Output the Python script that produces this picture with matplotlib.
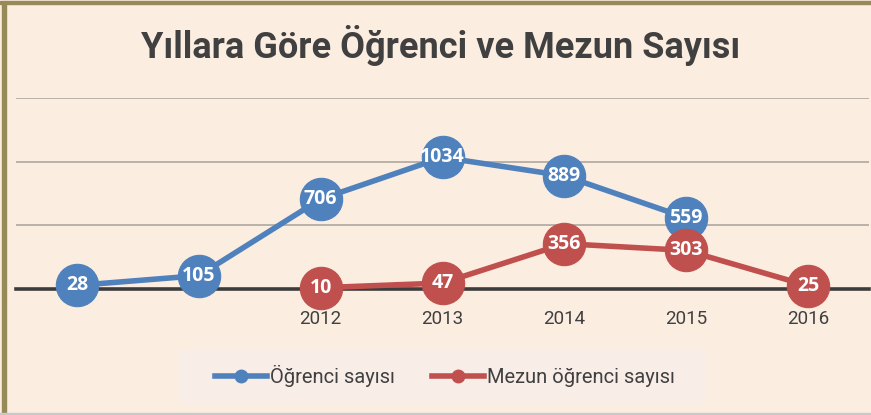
import numpy as np
import matplotlib
matplotlib.use("Agg")
import matplotlib.pyplot as plt
from matplotlib.lines import Line2D
from matplotlib.patches import Rectangle

# chart data
years = ['', '', '2012', '2013', '2014', '2015', '2016']
ogrenci = [28, 105, 706, 1034, 889, 559, np.nan]
mezun = [np.nan, np.nan, 10, 47, 356, 303, 25]

blue = '#4f81bd'
red = '#c0504d'
bg = '#fcede1'
txt = '#404040'

W, H = 871, 415
fig = plt.figure(figsize=(W / 100, H / 100), dpi=100, facecolor=bg)

# border bands
fig.patches.append(Rectangle((0, 1 - 4 / H), 1, 3 / H, transform=fig.transFigure,
                             color='#968a58', zorder=0))
fig.patches.append(Rectangle((2 / W, 2 / H), 4 / W, 1 - 6 / H, transform=fig.transFigure,
                             color='#968a58', zorder=0))
fig.patches.append(Rectangle((0, 0), 1, 2.5 / H, transform=fig.transFigure,
                             color='#c8c8c8', zorder=0))
# legend box
fig.patches.append(Rectangle((179 / W, 1 - 403 / H), (705 - 179) / W, 54 / H,
                             transform=fig.transFigure, color='#f8ede7', zorder=0))

ax = fig.add_axes([16 / W, 1 - 289 / H, (869 - 16) / W, (289 - 98) / H])
ax.set_facecolor('none')
for s in ax.spines.values():
    s.set_visible(False)

x = np.arange(len(years))
ax.set_xlim(-0.5, len(years) - 0.5)
ax.set_ylim(0, 1500)

for g in [500, 1000, 1500]:
    ax.axhline(g, color='#b5aca3', lw=1.3, zorder=1)
ax.axhline(0, color='#3c3c3c', lw=2.6, zorder=2, clip_on=False)

for vals, col in [(ogrenci, blue), (mezun, red)]:
    ax.plot(x, vals, color=col, lw=4, marker='o', markersize=30.5,
            markeredgecolor=col, markeredgewidth=0.8, zorder=3, clip_on=False)
    for xi, v in zip(x, vals):
        if np.isnan(v):
            continue
        ax.text(xi, v, str(int(v)), color='white', fontsize=14, fontweight='bold',
                family=['Open Sans', 'DejaVu Sans'], ha='center', va='center',
                zorder=4, clip_on=False)

ax.set_yticks([])
ax.set_xticks(x)
ax.set_xticklabels(years, fontsize=13.5, color=txt, family=['Roboto', 'DejaVu Sans'])
ax.tick_params(axis='x', length=0, pad=15)

fig.text(441 / W, 1 - 58 / H, 'Yıllara Göre Öğrenci ve Mezun Sayısı', ha='center',
         va='baseline', fontsize=26, fontweight='bold', color=txt,
         family=['Roboto', 'DejaVu Sans'])

handles = [Line2D([], [], color=blue, lw=4, marker='o', markersize=9),
           Line2D([], [], color=red, lw=4, marker='o', markersize=9)]
leg = fig.legend(handles, ['Öğrenci sayısı', 'Mezun öğrenci sayısı'], loc='center',
                 bbox_to_anchor=(445 / W, 1 - 376 / H), ncol=2, frameon=False,
                 handlelength=2.6, handletextpad=0.15, columnspacing=1.8,
                 borderaxespad=0,
                 prop={'family': ['Roboto', 'DejaVu Sans'], 'size': 14.5})
for t in leg.get_texts():
    t.set_color(txt)

fig.savefig('out.png', dpi=100, facecolor=bg)
